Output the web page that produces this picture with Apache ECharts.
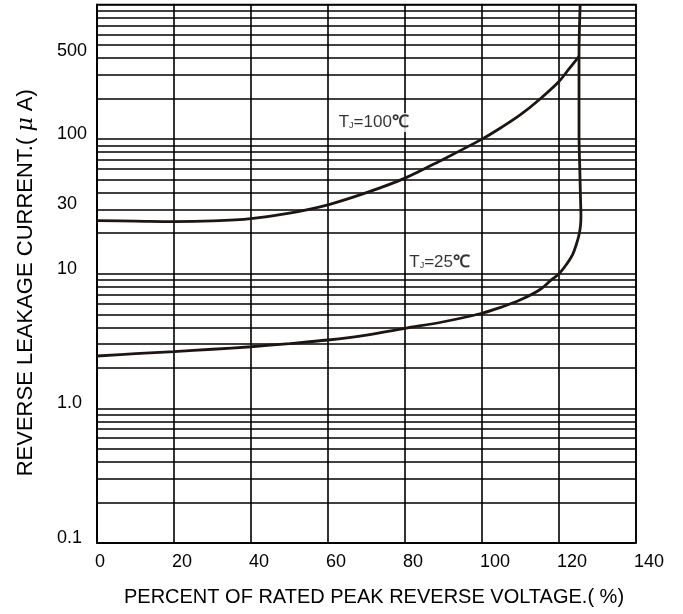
<!DOCTYPE html>
<html><head><meta charset="utf-8">
<script src="https://cdn.jsdelivr.net/npm/echarts@6/dist/echarts.min.js"></script>
<style>html,body{margin:0;padding:0;background:#fff}#c{width:683px;height:614px}</style>
</head><body><div id="c"></div>
<script>
// ---- data ----
const xTicks = [0, 20, 40, 60, 80, 100, 120, 140];
const yLabelValues = [0.1, 1, 10, 30, 100, 500];
const yMinorGrid = [0.2,0.3,0.4,0.5,0.6,0.7,0.8,0.9, 2,3,4,5,6,7,8,9, 20,30,40,50,60,70,80,90, 200,300,400,500,600,700,800,900];

const tj25Percent = [0, 10, 20, 30, 40, 50, 60, 70, 80, 90, 100, 105, 110, 115, 118, 120, 122, 123.5, 124.5, 125.2, 125.6, 125.7, 125.6, 125.4, 125.2, 125.2, 125.5];
const tj25Current = [2.45, 2.55, 2.64, 2.75, 2.87, 3.03, 3.22, 3.5, 3.93, 4.4, 5.09, 5.65, 6.4, 7.6, 9.0, 10, 11.8, 13.8, 16.5, 19.5, 23, 27, 35, 60, 111, 411, 1000];

const tj100Percent = [0, 10, 20, 30, 40, 50, 60, 70, 80, 90, 100, 105, 110, 115, 120, 122.5, 125.2];
const tj100Current = [24.8, 24.6, 24.4, 24.7, 25.7, 28.2, 32.5, 40, 51.3, 71, 100, 122, 152, 198, 268, 330, 411];

const annoTemps = ['100', '25'];
const annoX = [71.9, 89];
const annoY = [133, 12.2];

const xTitle = 'PERCENT OF RATED PEAK REVERSE VOLTAGE.( %)';
const yTitle = 'REVERSE LEAKAGE CURRENT.( {mu|μ} A)';

// ---- chart ----
const FONT = "'Liberation Sans', Arial, sans-serif";
const chart = echarts.init(document.getElementById('c'), null, {renderer: 'canvas'});
const zip = (a, b) => a.map((v, i) => [v, b[i]]);
const curveStyle = {color: '#1c1512', width: 2.8};
const gridLine = {color: '#000', width: 1.6};

chart.setOption({
  animation: false,
  backgroundColor: '#fff',
  grid: {left: 97, right: 47, top: 4.5, bottom: 71, show: true, borderColor: '#000', borderWidth: 1.6},
  xAxis: {
    type: 'value', min: 0, max: 140, interval: 20,
    axisLine: {show: true, lineStyle: gridLine},
    axisTick: {show: false},
    splitLine: {show: true, lineStyle: gridLine},
    axisLabel: {color: '#000', fontFamily: FONT, fontSize: 18, margin: 10, align: 'left', padding: [0,0,0,-2]},
    name: xTitle, nameLocation: 'middle', nameGap: 44,
    nameTextStyle: {color: '#000', fontFamily: FONT, fontSize: 20, padding: [0,0,0,15]}
  },
  yAxis: {
    type: 'log', logBase: 10, min: 0.1, max: 1000,
    axisLine: {show: true, lineStyle: gridLine},
    axisTick: {show: false},
    splitLine: {show: true, lineStyle: gridLine},
    axisLabel: {
      color: '#000', fontFamily: FONT, fontSize: 18, margin: 40, align: 'left',
      customValues: yLabelValues,
      formatter: v => {
        const t = (Math.abs(v - 1) < 1e-9) ? '1.0' : String(+v.toPrecision(6));
        return Math.abs(v - 500) < 1e-6 ? '{dn|' + t + '}' : '{up|' + t + '}';
      },
      rich: {
        up: {fontFamily: FONT, fontSize: 18, color: '#000', padding: [0,0,10,0]},
        dn: {fontFamily: FONT, fontSize: 18, color: '#000', padding: [13,0,0,0]}
      }
    },
    name: yTitle, nameLocation: 'middle', nameGap: 60, nameRotate: 90,
    nameTextStyle: {color: '#000', fontFamily: FONT, fontSize: 22, padding: [0,18,0,0],
      rich: {mu: {fontFamily: "'DejaVu Serif', serif", fontStyle: 'italic', fontSize: 22, color: '#000'}}}
  },
  series: [
    {
      type: 'line', name: 'minorGrid', data: [], silent: true,
      markLine: {
        silent: true, symbol: ['none', 'none'], animation: false,
        label: {show: false},
        lineStyle: {color: '#000', width: 1.5, type: 'solid'},
        data: yMinorGrid.map(v => ({yAxis: v}))
      }
    },
    {type: 'line', name: 'TJ=25', data: zip(tj25Percent, tj25Current), showSymbol: false, smooth: 0.35, lineStyle: curveStyle, z: 5},
    {type: 'line', name: 'TJ=100', data: zip(tj100Percent, tj100Current), showSymbol: false, smooth: 0.35, lineStyle: curveStyle, z: 5},
    {
      type: 'scatter', symbolSize: 0, z: 6, silent: true,
      data: annoTemps.map((t, i) => ({value: [annoX[i], annoY[i]], t: t})),
      label: {
        show: true, position: 'inside',
        formatter: p => 'T{sub|J}=' + p.data.t + '{deg|℃}',
        fontFamily: FONT, fontSize: 17, color: '#000',
        backgroundColor: '#fff', padding: [1, 1],
        rich: {
          sub: {fontFamily: FONT, fontSize: 9, color: '#000', padding: [6,0,0,0]},
          deg: {fontFamily: FONT, fontSize: 17, color: '#000', fontWeight: 'bold'}
        }
      }
    }
  ]
});
</script></body></html>
